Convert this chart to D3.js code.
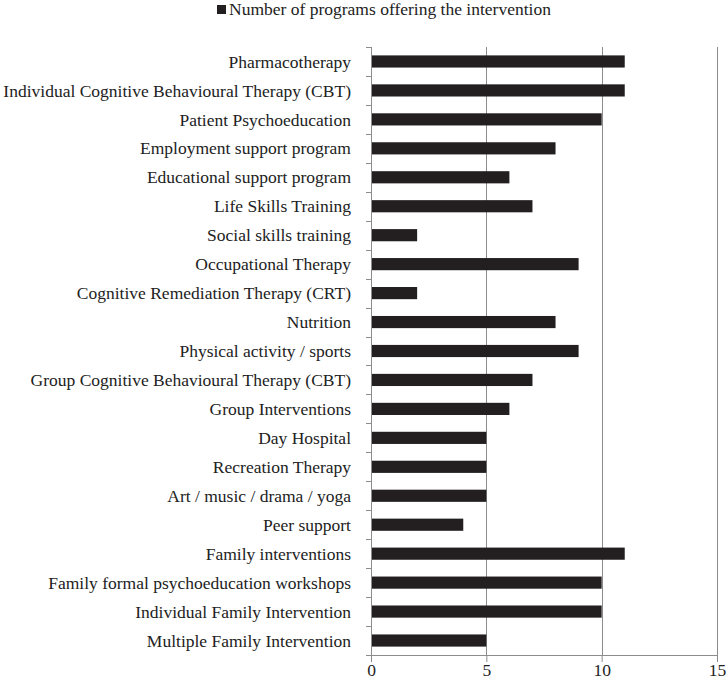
<!DOCTYPE html>
<html>
<head>
<meta charset="utf-8">
<script src="https://cdn.jsdelivr.net/npm/d3@7"></script>
<style>
  body { margin: 0; background: #fff; }
  svg text { font-family: "Liberation Serif", "Times New Roman", serif; fill: #222; }
</style>
</head>
<body>
<div id="chart"></div>
<script>
// categories, top to bottom
const interventions = [
    "Pharmacotherapy",
    "Individual Cognitive Behavioural Therapy (CBT)",
    "Patient Psychoeducation",
    "Employment support program",
    "Educational support program",
    "Life Skills Training",
    "Social skills training",
    "Occupational Therapy",
    "Cognitive Remediation Therapy (CRT)",
    "Nutrition",
    "Physical activity / sports",
    "Group Cognitive Behavioural Therapy (CBT)",
    "Group Interventions",
    "Day Hospital",
    "Recreation Therapy",
    "Art / music / drama / yoga",
    "Peer support",
    "Family interventions",
    "Family formal psychoeducation workshops",
    "Individual Family Intervention",
    "Multiple Family Intervention"
];
const programCounts = [11, 11, 10, 8, 6, 7, 2, 9, 2, 8, 9, 7, 6, 5, 5, 5, 4, 11, 10, 10, 5];
const xTicks = [0, 5, 10, 15];
const seriesName = "Number of programs offering the intervention";

const W = 726, H = 682;
const plotLeft = 371, plotRight = 717, plotTop = 47, plotBottom = 655;

const svg = d3.select("#chart")
    .append("svg")
    .attr("width", W)
    .attr("height", H);

const xScale = d3.scaleLinear()
    .domain([0, 15])
    .range([plotLeft, plotRight]);

const yScale = d3.scaleBand()
    .domain(interventions)
    .range([plotTop, plotBottom])
    .paddingInner(0.58)
    .paddingOuter(0.29);

// vertical grid lines
svg.append("g")
    .selectAll("line")
    .data(xTicks.slice(1))
    .enter()
    .append("line")
    .attr("x1", d => Math.round(xScale(d)) + 0.5)
    .attr("x2", d => Math.round(xScale(d)) + 0.5)
    .attr("y1", plotTop)
    .attr("y2", plotBottom)
    .attr("stroke", "#8c8c8c")
    .attr("stroke-width", 1);

// bars
svg.append("g")
    .selectAll("rect")
    .data(programCounts)
    .enter()
    .append("rect")
    .attr("x", xScale(0))
    .attr("y", (d, i) => yScale(interventions[i]))
    .attr("width", d => xScale(d) - xScale(0))
    .attr("height", yScale.bandwidth())
    .attr("fill", "#231f20");

// bottom axis
const xAxis = svg.append("g")
    .attr("transform", `translate(0, ${plotBottom})`)
    .call(d3.axisBottom(xScale).tickValues(xTicks).tickSize(7).tickPadding(2));
xAxis.select(".domain").attr("stroke", "#8c8c8c").attr("d", `M${plotLeft - 5},0.5H${plotRight}`);
xAxis.selectAll(".tick line").attr("stroke", "#8c8c8c");
xAxis.selectAll(".tick text")
    .style("font-size", "17.5px")
    .style("font-family", "Liberation Serif, serif")
    .attr("fill", "#222");

// left axis: line plus tick marks at band boundaries
const step = yScale.step();
const boundaries = d3.range(interventions.length + 1).map(i => plotTop + i * step);
svg.append("line")
    .attr("x1", plotLeft + 0.5)
    .attr("x2", plotLeft + 0.5)
    .attr("y1", plotTop)
    .attr("y2", plotBottom)
    .attr("stroke", "#8c8c8c");
svg.append("g")
    .selectAll("line")
    .data(boundaries)
    .enter()
    .append("line")
    .attr("x1", plotLeft - 5)
    .attr("x2", plotLeft)
    .attr("y1", d => Math.round(d) + 0.5)
    .attr("y2", d => Math.round(d) + 0.5)
    .attr("stroke", "#8c8c8c");

// category labels
svg.append("g")
    .selectAll("text")
    .data(interventions)
    .enter()
    .append("text")
    .attr("x", 351)
    .attr("y", d => yScale(d) + yScale.bandwidth() / 2)
    .attr("dy", "0.35em")
    .attr("text-anchor", "end")
    .style("font-size", "17.5px")
    .text(d => d);

// legend
svg.append("rect")
    .attr("x", 217)
    .attr("y", 5)
    .attr("width", 9)
    .attr("height", 9)
    .attr("fill", "#231f20");
svg.append("text")
    .attr("x", 229)
    .attr("y", 15)
    .style("font-size", "17.5px")
    .text(seriesName);
</script>
</body>
</html>
